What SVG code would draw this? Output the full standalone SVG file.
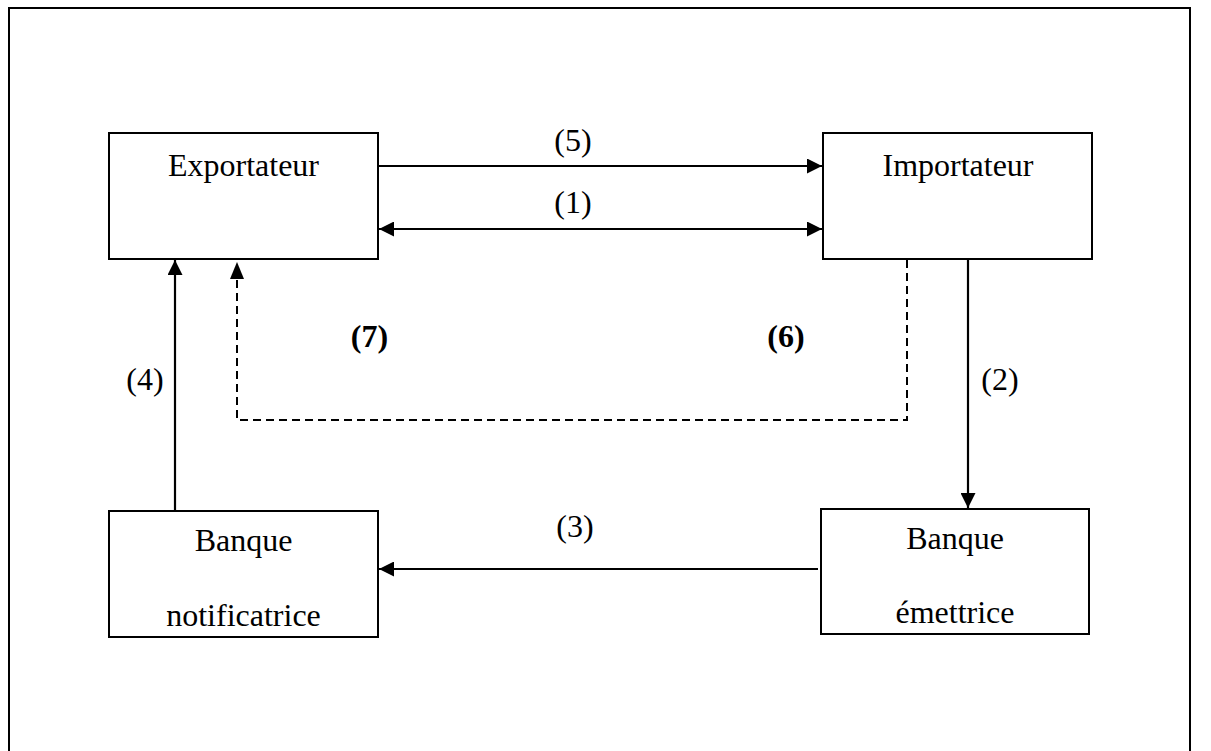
<svg xmlns="http://www.w3.org/2000/svg" width="1211" height="751" viewBox="0 0 1211 751">
<style>
.box{fill:#fff;stroke:#000;stroke-width:2}
.t{font-family:"Liberation Serif","Times New Roman",serif;font-size:32px;fill:#000;text-anchor:middle}
.b{font-weight:bold}
.ln{stroke:#000;stroke-width:2.2;fill:none}
.d{stroke-dasharray:8,5;stroke-width:2}
</style>
<defs>
<marker id="ah" viewBox="0 0 10 10" refX="10" refY="5" markerWidth="16" markerHeight="15" markerUnits="userSpaceOnUse" orient="auto-start-reverse">
<path d="M0,0 L10,5 L0,10 Z" fill="#000"/>
</marker>
</defs>
<rect width="1211" height="751" fill="#fff"/>
<path d="M9,760 L9,8 L1190,8 L1190,760" fill="none" stroke="#000" stroke-width="2"/>
<g id="exportateur">
<rect class="box" x="109" y="133" width="269" height="126"/>
<text class="t" x="243.5" y="176">Exportateur</text>
</g>
<g id="importateur">
<rect class="box" x="823" y="133" width="269" height="126"/>
<text class="t" x="958" y="176">Importateur</text>
</g>
<g id="banque-notificatrice">
<rect class="box" x="109" y="511" width="269" height="126"/>
<text class="t" x="243.5" y="551">Banque</text>
<text class="t" x="243.5" y="626">notificatrice</text>
</g>
<g id="banque-emettrice">
<rect class="box" x="821" y="509" width="268" height="125"/>
<text class="t" x="955" y="549">Banque</text>
<text class="t" x="955" y="623">émettrice</text>
</g>
<g id="connectors">
<line class="ln" x1="379" y1="166" x2="822" y2="166" marker-end="url(#ah)"/>
<line class="ln" x1="379" y1="229" x2="822" y2="229" marker-start="url(#ah)" marker-end="url(#ah)"/>
<line class="ln" x1="175" y1="510" x2="175" y2="260" marker-end="url(#ah)"/>
<line class="ln" x1="968" y1="260" x2="968" y2="508" marker-end="url(#ah)"/>
<line class="ln" x1="818" y1="569" x2="379" y2="569" marker-end="url(#ah)"/>
<path class="ln d" d="M907,260 L907,420 L237,420 L237,277"/>
<path d="M237,262 L244,279 L230,279 Z" fill="#000"/>
</g>
<g id="labels">
<text class="t" x="573" y="151">(5)</text>
<text class="t" x="573" y="213">(1)</text>
<text class="t b" x="369.5" y="347">(7)</text>
<text class="t b" x="786" y="347">(6)</text>
<text class="t" x="145" y="390">(4)</text>
<text class="t" x="1000" y="390">(2)</text>
<text class="t" x="575" y="537">(3)</text>
</g>
</svg>
